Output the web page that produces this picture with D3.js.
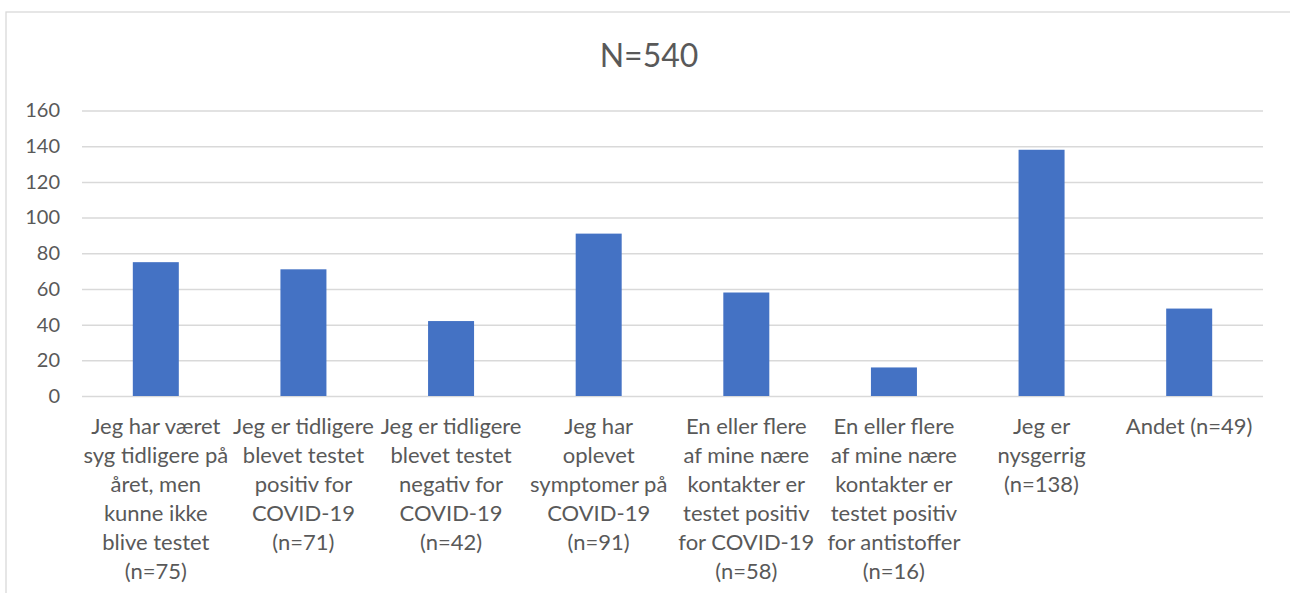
<!DOCTYPE html>
<html><head><meta charset="utf-8">
<script src="https://cdn.jsdelivr.net/npm/d3@7"></script>
<style>body{margin:0;background:#fff;} svg{display:block;}</style>
</head><body>
<svg id="c" width="1290" height="593"></svg>
<script>
const title = "N=540";
const categories = [
  ["Jeg har været","syg tidligere på","året, men","kunne ikke","blive testet","(n=75)"],
  ["Jeg er tidligere","blevet testet","positiv for","COVID-19","(n=71)"],
  ["Jeg er tidligere","blevet testet","negativ for","COVID-19","(n=42)"],
  ["Jeg har","oplevet","symptomer på","COVID-19","(n=91)"],
  ["En eller flere","af mine nære","kontakter er","testet positiv","for COVID-19","(n=58)"],
  ["En eller flere","af mine nære","kontakter er","testet positiv","for antistoffer","(n=16)"],
  ["Jeg er","nysgerrig","(n=138)"],
  ["Andet (n=49)"]
];
const values = [75, 71, 42, 91, 58, 16, 138, 49];
const yTicks = [0, 20, 40, 60, 80, 100, 120, 140, 160];

(function () {
const svg = d3.select("#c");
const font = "Lato, 'Open Sans', sans-serif";
const pl = 82, pr = 1263, pt = 110.5, pb = 396;

svg.append("rect").attr("x", 6).attr("y", 12).attr("width", 1300).attr("height", 600)
  .attr("fill", "#fff").attr("stroke", "#d9d9d9").attr("stroke-width", 1.3);

const x = d3.scaleBand().domain(d3.range(values.length)).range([pl, pr]).padding(0);
const y = d3.scaleLinear().domain([0, 160]).range([pb, pt]);

svg.append("text").attr("x", 649).attr("y", 67).attr("text-anchor", "middle")
  .attr("font-family", font).attr("font-size", 32).attr("fill", "#595959").text(title);

const yAxis = d3.axisLeft(y).tickValues(yTicks).tickSize(-(pr - pl)).tickPadding(22);
const gy = svg.append("g").attr("transform", `translate(${pl},0)`).call(yAxis);
gy.select(".domain").remove();
gy.selectAll(".tick line").attr("stroke", "#d9d9d9").attr("stroke-width", 1.5);
gy.selectAll(".tick text").attr("font-family", font).attr("font-size", 20).attr("fill", "#595959");

const bw = 46;
svg.append("g").selectAll("rect").data(values).join("rect")
  .attr("x", (d, i) => x(i) + x.bandwidth() / 2 - bw / 2)
  .attr("width", bw)
  .attr("y", d => y(d))
  .attr("height", d => y(0) - y(d))
  .attr("fill", "#4472c4");

const lab = svg.append("g");
categories.forEach((lines, i) => {
  const t = lab.append("text").attr("text-anchor", "middle")
    .attr("font-family", font).attr("font-size", 22).attr("fill", "#595959");
  lines.forEach((ln, j) => {
    t.append("tspan").attr("x", x(i) + x.bandwidth() / 2).attr("y", 434 + j * 29).text(ln);
  });
});
})();
</script>
</body></html>
